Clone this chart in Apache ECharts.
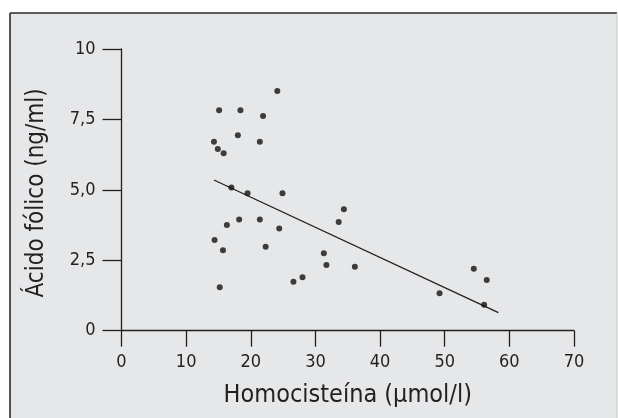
<!DOCTYPE html>
<html>
<head>
<meta charset="utf-8">
<script src="https://cdn.jsdelivr.net/npm/echarts@6/dist/echarts.min.js"></script>
<style>
  html, body { margin: 0; padding: 0; background: #ffffff; }
  #chart { width: 618px; height: 418px; }
</style>
</head>
<body>
<div id="chart"></div>
<script>
// Data
const homocisteina = [14.3, 14.9, 15.1, 15.8, 14.4, 15.7, 15.2, 17.0, 16.3, 18.4, 18.0, 18.2, 19.5, 21.4, 21.9, 21.4, 22.3, 24.1, 24.4, 24.9, 26.6, 28.0, 31.3, 31.7, 33.6, 34.4, 36.1, 49.2, 54.5, 56.5, 56.1];
const acidoFolico  = [6.71, 6.45, 7.83, 6.30, 3.22, 2.86, 1.54, 5.08, 3.75, 7.83, 6.94, 3.95, 4.88, 6.71, 7.62, 3.95, 2.98, 8.51, 3.63, 4.88, 1.74, 1.90, 2.75, 2.33, 3.86, 4.31, 2.27, 1.33, 2.20, 1.80, 0.92];
const trendX = [14.3, 58.3];
const trendY = [5.35, 0.64];
const yTickValues = [0, 2.5, 5, 7.5, 10];
const yTickLabels = ['0', '2,5', '5,0', '7,5', '10'];
const xTitle = 'Homocisteína (\u00B5mol/l)';
const yTitle = 'Ácido fólico (ng/ml)';

const FONT = '"Liberation Sans Narrow", "DejaVu Sans Condensed", "Liberation Sans", sans-serif';
const INK = '#231f20';

const chart = echarts.init(document.getElementById('chart'), null, { renderer: 'canvas' });
const scatterData = homocisteina.map((x, i) => [x, acidoFolico[i]]);
const trendData = trendX.map((x, i) => [x, trendY[i]]);

chart.setOption({
  backgroundColor: '#ffffff',
  animation: false,
  graphic: [
    { type: 'rect', z: -10, silent: true, shape: { x: 10, y: 13, width: 607, height: 420 }, style: { fill: '#e6e7e8', stroke: null } },
    { type: 'line', z: -9, silent: true, shape: { x1: 10, y1: 13, x2: 617, y2: 13 }, style: { stroke: '#2b2b2b', lineWidth: 1.6 } },
    { type: 'line', z: -9, silent: true, shape: { x1: 10, y1: 13, x2: 10, y2: 418 }, style: { stroke: '#2b2b2b', lineWidth: 1.6 } },
    { type: 'line', z: -9, silent: true, shape: { x1: 617, y1: 13, x2: 617, y2: 418 }, style: { stroke: '#c8c9ca', lineWidth: 1 } }
  ],
  grid: { left: 121.5, right: 44, top: 49, bottom: 87.3, containLabel: false },
  xAxis: {
    type: 'value', min: 0, max: 70, interval: 10,
    name: xTitle, nameLocation: 'middle', nameGap: 52,
    nameTextStyle: { fontFamily: FONT, fontSize: 25, color: INK },
    axisLine: { onZero: false, lineStyle: { color: INK, width: 1.3 } },
    axisTick: { show: true, inside: false, length: 16, lineStyle: { color: INK, width: 1.3 } },
    axisLabel: { fontFamily: FONT, fontSize: 18, color: INK, margin: 23 },
    splitLine: { show: false }
  },
  yAxis: {
    type: 'value', min: 0, max: 10, interval: 2.5,
    name: yTitle, nameLocation: 'middle', nameGap: 73,
    nameTextStyle: { fontFamily: FONT, fontSize: 24, color: INK, padding: [0, 6, 0, 0] },
    axisLine: { show: true, onZero: false, lineStyle: { color: INK, width: 1.3 } },
    axisTick: { show: true, inside: false, length: 19, lineStyle: { color: INK, width: 1.3 } },
    axisLabel: {
      fontFamily: FONT, fontSize: 18, color: INK, margin: 26,
      formatter: function (v) { const i = yTickValues.indexOf(v); return i >= 0 ? yTickLabels[i] : ''; }
    },
    splitLine: { show: false }
  },
  series: [
    {
      type: 'line', data: trendData, symbol: 'none', silent: true,
      lineStyle: { color: INK, width: 1.3 }, z: 2
    },
    {
      type: 'scatter', data: scatterData, symbol: 'circle', symbolSize: 6,
      itemStyle: { color: '#111111' }, z: 3
    }
  ]
});
</script>
</body>
</html>
